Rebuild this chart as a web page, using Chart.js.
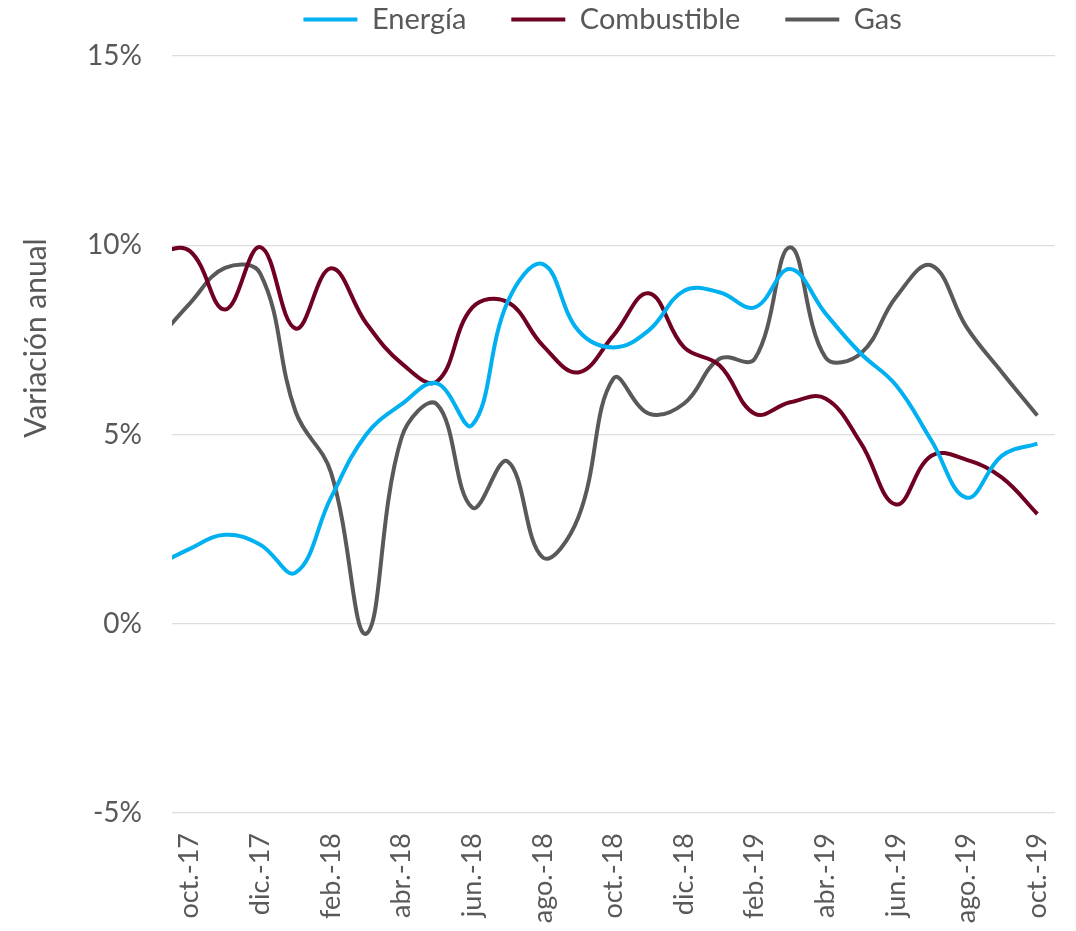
<!DOCTYPE html>
<html lang="es">
<head>
<meta charset="utf-8">
<title>Variación anual</title>
<script src="https://cdn.jsdelivr.net/npm/chart.js@4.4.1/dist/chart.umd.min.js"></script>
<style>
    html, body { margin: 0; padding: 0; background: #fff; }
    #wrap { width: 1076px; height: 931px; position: relative; }
</style>
</head>
<body>
<div id="wrap"><canvas id="variacionChart"></canvas></div>
<script>
// meses (sep.-17 queda fuera del área visible, solo da la curva del borde izquierdo)
var months = ['sep.-17', 'oct.-17', 'nov.-17', 'dic.-17', 'ene.-18', 'feb.-18', 'mar.-18',
    'abr.-18', 'may.-18', 'jun.-18', 'jul.-18', 'ago.-18', 'sep.-18', 'oct.-18', 'nov.-18',
    'dic.-18', 'ene.-19', 'feb.-19', 'mar.-19', 'abr.-19', 'may.-19', 'jun.-19', 'jul.-19',
    'ago.-19', 'sep.-19', 'oct.-19'];

var energia = [1.5, 1.98, 2.35, 2.09, 1.35, 3.33, 5.0, 5.8, 6.35, 5.25, 8.5, 9.5, 7.75,
    7.3, 7.75, 8.8, 8.76, 8.36, 9.37, 8.2, 7.14, 6.3, 4.84, 3.33, 4.44, 4.76];

var combustible = [9.8, 9.85, 8.3, 9.95, 7.8, 9.39, 7.94, 6.88, 6.4, 8.35, 8.5, 7.35, 6.64,
    7.62, 8.73, 7.3, 6.83, 5.55, 5.85, 5.95, 4.78, 3.15, 4.44, 4.33, 3.86, 2.9];

var gas = [7.4, 8.46, 9.4, 9.25, 5.6, 4.0, -0.26, 4.92, 5.8, 3.07, 4.29, 1.75, 2.8,
    6.48, 5.55, 5.82, 7.0, 7.0, 9.95, 7.04, 7.14, 8.63, 9.47, 7.83, 6.64, 5.5];

var yTicks = [-5, 0, 5, 10, 15];
var yTitle = 'Variación anual';

(function() {
    'use strict';

    var TEXT = '#595959';
    var LEGEND_GAP = '\u2003\u2002\u2009'; // separacion extra entre entradas de la leyenda
    var LEGEND_TAIL = '\u2003';           // corre la leyenda un poco a la izquierda

    function toPoints(values) {
        return values.map(function(v, i) { return { x: i, y: v }; });
    }

    // solo una etiqueta cada dos meses, empezando en oct.-17
    function xTickValues() {
        var out = [];
        for (var i = 1; i < months.length; i += 2) out.push({ value: i });
        return out;
    }

    // titulo del eje Y dibujado a mano (no va centrado en el eje)
    var yTitlePlugin = {
        id: 'yTitle',
        afterDraw: function(chart) {
            var c = chart.ctx;
            c.save();
            c.translate(36, 338);
            c.rotate(-Math.PI / 2);
            c.font = '30px Lato';
            c.fillStyle = TEXT;
            c.textAlign = 'center';
            c.textBaseline = 'middle';
            c.fillText(yTitle, 0, 0);
            c.restore();
        }
    };

    // deja algo mas de aire debajo de la leyenda sin moverla
    var legendSpacePlugin = {
        id: 'legendSpace',
        beforeLayout: function(chart) {
            var lg = chart.legend;
            if (lg && !lg._spaced) {
                var fit = lg.fit;
                lg.fit = function() {
                    fit.call(this);
                    this.height += 12;
                };
                lg._spaced = true;
            }
        }
    };

    function lineSet(label, values, color) {
        return {
            label: label,
            data: toPoints(values),
            borderColor: color,
            backgroundColor: color,
            borderWidth: 4,
            pointRadius: 0,
            tension: 0.4,
            fill: false
        };
    }

    Chart.defaults.font.family = 'Lato';
    Chart.defaults.color = TEXT;

    var ctx = document.getElementById('variacionChart');
    new Chart(ctx, {
        type: 'line',
        data: {
            datasets: [
                lineSet('Energía', energia, '#00B0F0'),
                lineSet('Combustible', combustible, '#700021'),
                lineSet('Gas', gas, '#595959')
            ]
        },
        options: {
            responsive: true,
            maintainAspectRatio: false,
            animation: false,
            layout: { padding: { top: 0, right: 21, bottom: 0, left: 0 } },
            plugins: {
                legend: {
                    position: 'top',
                    fullSize: false,
                    labels: {
                        usePointStyle: true,
                        pointStyle: 'line',
                        pointStyleWidth: 54,
                        padding: 5,
                        color: TEXT,
                        font: { size: 29 },
                        generateLabels: function(chart) {
                            var items = Chart.defaults.plugins.legend.labels.generateLabels(chart);
                            items.forEach(function(it, i) {
                                it.text += (i < items.length - 1) ? LEGEND_GAP : LEGEND_TAIL;
                            });
                            return items;
                        }
                    }
                },
                tooltip: { enabled: false }
            },
            scales: {
                x: {
                    type: 'linear',
                    min: 0.5,
                    max: months.length - 0.5,
                    afterBuildTicks: function(axis) { axis.ticks = xTickValues(); },
                    afterFit: function(axis) {
                        axis.height = 118;
                        axis.paddingLeft = 0;
                        axis.paddingRight = 0;
                    },
                    grid: { display: false, drawTicks: false },
                    border: { display: false },
                    ticks: {
                        autoSkip: false,
                        minRotation: 90,
                        maxRotation: 90,
                        padding: 20,
                        font: { size: 27 },
                        callback: function(v) { return months[v]; }
                    }
                },
                y: {
                    min: yTicks[0],
                    max: yTicks[yTicks.length - 1],
                    afterFit: function(axis) { axis.width = 172; },
                    afterBuildTicks: function(axis) {
                        axis.ticks = yTicks.map(function(v) { return { value: v }; });
                    },
                    grid: { color: '#DDDDDD', lineWidth: 1.3, drawTicks: false },
                    border: { display: false },
                    ticks: {
                        padding: 30,
                        font: { size: 28 },
                        callback: function(v) { return v + '%'; }
                    }
                }
            }
        },
        plugins: [yTitlePlugin, legendSpacePlugin]
    });
})();
</script>
</body>
</html>
